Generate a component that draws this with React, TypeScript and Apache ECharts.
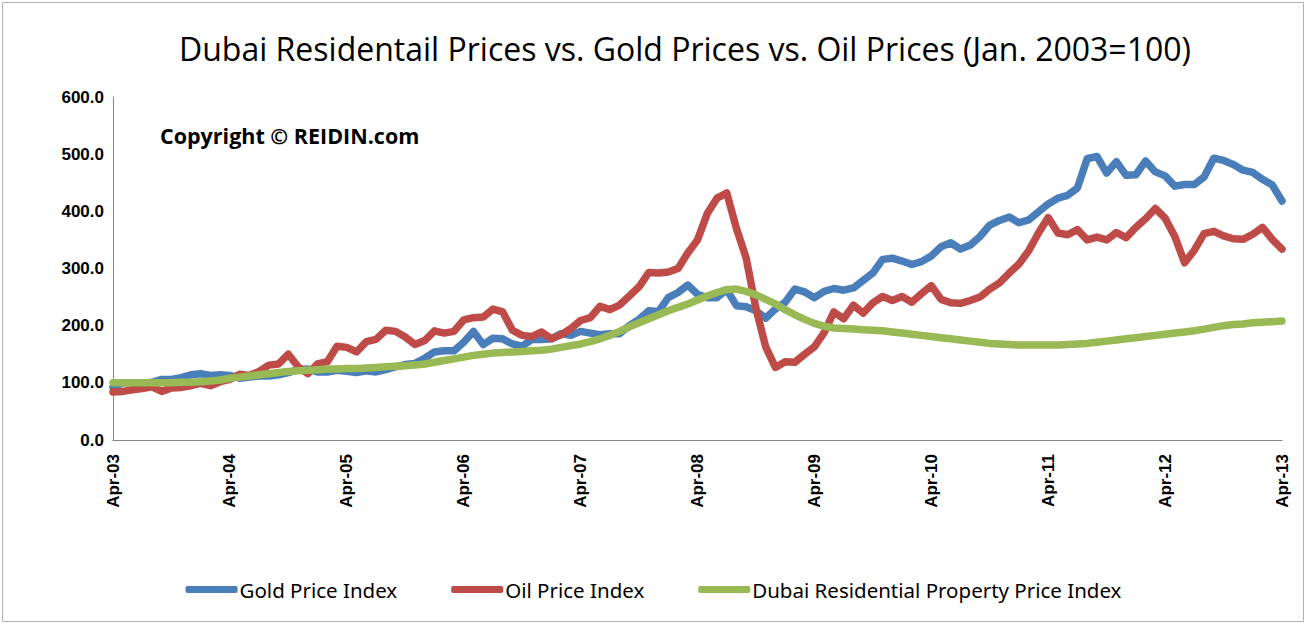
import React, { useEffect, useRef } from "react";
import * as echarts from "echarts";

const MONTHS = ["Jan", "Feb", "Mar", "Apr", "May", "Jun", "Jul", "Aug", "Sep", "Oct", "Nov", "Dec"];
const YEARS = ["03", "04", "05", "06", "07", "08", "09", "10", "11", "12", "13"];

// Apr-03 ... Apr-13 (monthly)
const categories: string[] = [];
YEARS.forEach((yy, yi) => {
  MONTHS.forEach((m, mi) => {
    if ((yi === 0 && mi < 3) || (yi === YEARS.length - 1 && mi > 3)) return;
    categories.push(`${m}-${yy}`);
  });
});

const yTicks = [0, 100, 200, 300, 400, 500, 600];

const goldIndex = [
  92, 100, 100, 98, 101, 106, 106, 109, 114,
  116, 113, 114, 113, 108, 110, 112, 112, 114, 118, 123, 124,
  119, 119, 122, 120, 118, 121, 119, 123, 128, 132, 134, 143,
  154, 156, 156, 171, 190, 167, 178, 177, 168, 164, 176, 176,
  177, 186, 183, 190, 187, 184, 186, 186, 200, 211, 226, 225,
  249, 258, 271, 255, 249, 249, 263, 235, 233, 226, 213, 229,
  241, 264, 259, 249, 260, 265, 262, 266, 279, 292, 316, 318,
  313, 307, 312, 322, 338, 345, 334, 341, 356, 376, 384, 390,
  380, 385, 399, 413, 423, 428, 441, 492, 496, 467, 487, 463,
  464, 488, 469, 462, 444, 447, 447, 460, 493, 489, 482, 472,
  468, 456, 446, 418,
];

const oilIndex = [
  84, 85, 88, 90, 93, 85, 91, 92, 95,
  99, 95, 102, 106, 115, 113, 120, 131, 133, 150, 128, 116,
  133, 137, 164, 162, 154, 172, 176, 192, 190, 180, 167, 174,
  191, 187, 190, 210, 214, 215, 229, 224, 192, 183, 181, 189,
  177, 184, 195, 209, 214, 234, 228, 236, 252, 268, 293, 292,
  294, 300, 327, 350, 396, 423, 432, 370, 318, 230, 163, 127,
  137, 136, 150, 163, 188, 224, 212, 236, 222, 240, 251, 244,
  251, 241, 256, 270, 246, 240, 239, 244, 250, 264, 275, 292,
  308, 331, 362, 389, 362, 359, 368, 350, 355, 350, 363, 354,
  372, 387, 405, 388, 356, 310, 332, 361, 365, 357, 352, 351,
  360, 372, 351, 334,
];

const dubaiIndex = [
  100, 100, 100, 100, 100, 100, 100, 101, 101,
  102, 103, 105, 108, 110, 112, 114, 116, 118, 120, 121, 122,
  123, 124, 124, 125, 125, 126, 127, 128, 129, 130, 131, 133,
  136, 139, 142, 145, 148, 150, 152, 153, 154, 155, 156, 157,
  159, 162, 165, 168, 172, 177, 183, 190, 198, 205, 212, 219,
  226, 232, 238, 245, 252, 258, 263, 264, 260, 254, 246, 238,
  228, 219, 211, 204, 199, 196, 195, 194, 193, 192, 191, 189,
  187, 185, 183, 181, 179, 177, 175, 173, 171, 169, 168, 167,
  166, 166, 166, 166, 166, 167, 168, 169, 171, 173, 175, 177,
  179, 181, 183, 185, 187, 189, 191, 194, 197, 200, 202, 203,
  205, 206, 207, 208,
];

const seriesNames = ["Gold Price Index", "Oil Price Index", "Dubai Residential Property Price Index"];
const seriesColors = ["#4A7EBB", "#BE4B48", "#98B954"];
const seriesData = [goldIndex, oilIndex, dubaiIndex];

export default function App() {
  const ref = useRef<HTMLDivElement>(null);

  useEffect(() => {
    if (!ref.current) return;
    const chart = echarts.init(ref.current, undefined, { renderer: "svg" });
    chart.setOption({
      animation: false,
      backgroundColor: "#ffffff",
      title: {
        text: "Dubai Residentail Prices vs. Gold Prices vs. Oil Prices (Jan. 2003=100)",
        left: 174,
        top: 27,
        textStyle: {
          fontFamily: "Open Sans",
          fontSize: 32,
          fontWeight: 500,
          color: "#000000",
        },
      },
      graphic: [
        {
          type: "rect",
          shape: { x: 2.5, y: 2.5, width: 1301, height: 619 },
          style: { fill: "none", stroke: "#b0b0b0", lineWidth: 1 },
          silent: true,
        },
        {
          type: "text",
          left: 160,
          top: 124,
          style: {
            text: "Copyright \u00A9 REIDIN.com",
            fontFamily: "Open Sans",
            fontWeight: "bold",
            fontSize: 21.5,
            fill: "#000000",
          },
        },
      ],
      legend: {
        data: seriesNames,
        left: "center",
        top: 574,
        itemWidth: 52,
        itemHeight: 7,
        itemGap: 54,
        icon: "roundRect",
        textStyle: { fontFamily: "Noto Sans", fontSize: 20.5, color: "#000000", padding: [0, 0, 0, -3] },
      },
      grid: { left: 113, right: 25, top: 97, bottom: 185, containLabel: false },
      xAxis: {
        type: "category",
        data: categories,
        boundaryGap: false,
        axisLine: { show: true, lineStyle: { color: "#868686", width: 1 } },
        axisTick: { show: false },
        axisLabel: {
          interval: 11,
          rotate: 90,
          margin: 14,
          fontFamily: "Liberation Sans",
          fontWeight: "bold",
          fontSize: 17,
          color: "#000000",
        },
        splitLine: { show: false },
      },
      yAxis: {
        type: "value",
        min: yTicks[0],
        max: yTicks[yTicks.length - 1],
        interval: 100,
        axisLine: { show: true, lineStyle: { color: "#868686", width: 1 } },
        axisTick: { show: false },
        axisLabel: {
          formatter: (v: number) => v.toFixed(1),
          margin: 9,
          fontFamily: "Liberation Sans",
          fontWeight: "bold",
          fontSize: 17,
          color: "#000000",
        },
        splitLine: { show: false },
      },
      series: seriesNames.map((name, i) => ({
        name,
        type: "line",
        data: seriesData[i],
        showSymbol: false,
        symbol: "none",
        z: 2 + i,
        itemStyle: { color: seriesColors[i] },
        lineStyle: { color: seriesColors[i], width: 7.5, cap: "round", join: "round" },
      })),
    });
    return () => chart.dispose();
  }, []);

  return (
    <div
      ref={ref}
      style={{ position: "fixed", left: 0, top: 0, width: 1307, height: 625 }}
    />
  );
}
